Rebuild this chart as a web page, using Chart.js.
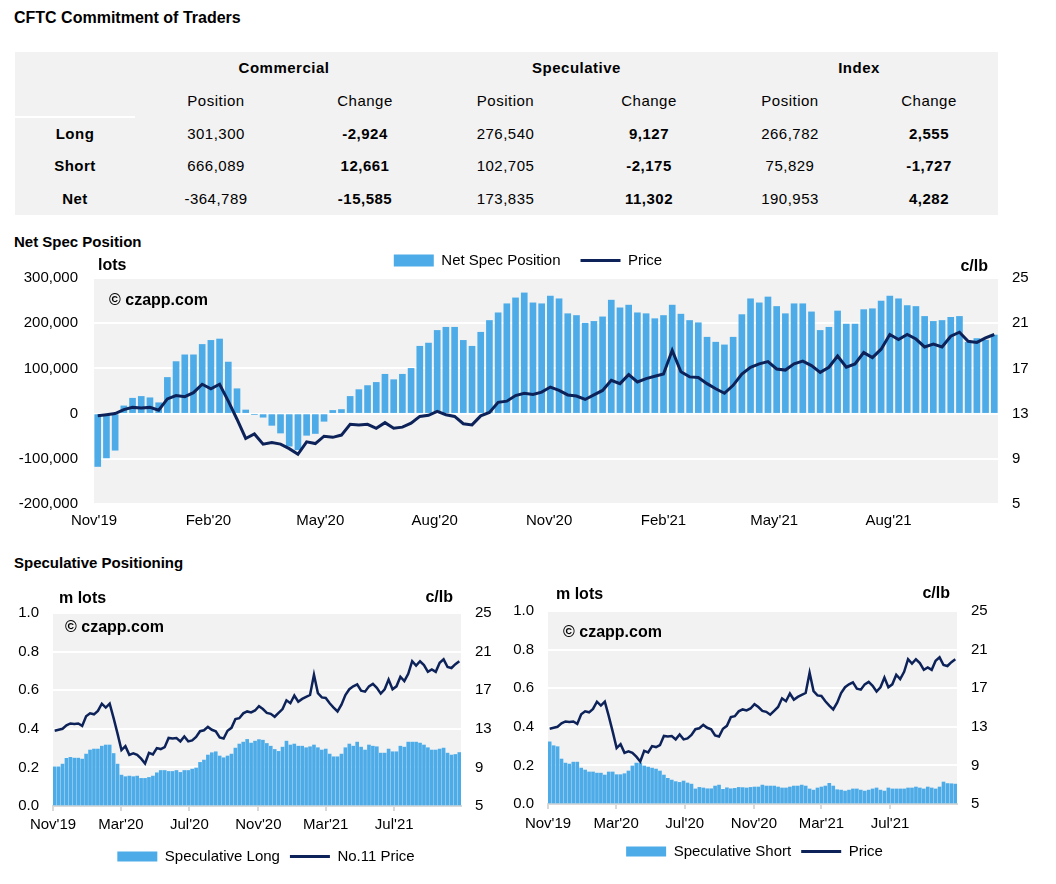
<!DOCTYPE html>
<html lang="en">
<head>
<meta charset="utf-8">
<title>CFTC Commitment of Traders</title>
<script src="https://cdn.jsdelivr.net/npm/chart.js@4.4.1/dist/chart.umd.min.js"></script>
<style>
  html, body { margin: 0; background: #fff; }
  body {
    position: relative; width: 1056px; height: 884px; overflow: hidden;
    font-family: 'Liberation Sans', Arial, sans-serif; color: #000;
  }
  .heading { position: absolute; left: 14px; margin: 0; font-size: 15px; line-height: 18px; font-weight: bold; }
  #title { top: 9px; font-size: 16px; }
  #netTitle { top: 233px; }
  #specTitle { top: 554px; }

  #cot {
    position: absolute; left: 15px; top: 52px; width: 983px; table-layout: fixed;
    border-collapse: separate; border-spacing: 0; background: #f2f2f2;
    font-size: 15px; letter-spacing: 0.5px;
  }
  #cot td, #cot th { padding: 0; text-align: center; vertical-align: middle; font-weight: normal; }
  #cot th, #cot td.bold { font-weight: bold; }
  #cot tr:nth-child(1) > * { height: 31px; }
  #cot tr:nth-child(2) > * { height: 33px; }
  #cot tr:nth-child(2) > .sep { border-bottom: 2px solid #fff; }
  #cot tr:nth-child(3) > * { height: 30px; }
  #cot tr:nth-child(4) > * { height: 34px; }
  #cot tr:nth-child(5) > * { height: 33px; }

  canvas { position: absolute; }
</style>
</head>
<body>
<div class="heading" id="title">CFTC Commitment of Traders</div>
<table id="cot">
  <colgroup>
    <col style="width:120px"><col style="width:162px"><col style="width:136px">
    <col style="width:145px"><col style="width:142px"><col style="width:140px"><col style="width:138px">
  </colgroup>
  <tbody></tbody>
</table>

<div class="heading" id="netTitle">Net Spec Position</div>
<canvas id="netChart" width="1056" height="302" style="left:0;top:233px"></canvas>

<div class="heading" id="specTitle">Speculative Positioning</div>
<canvas id="longChart" width="532" height="291" style="left:0;top:583px"></canvas>
<canvas id="shortChart" width="489" height="288" style="left:510px;top:581px"></canvas>

<script>
// table
const cotGroups = ['Commercial', 'Speculative', 'Index'];
const cotColumns = ['Position', 'Change'];
const cotRowLabels = ['Long', 'Short', 'Net'];
const cotPositions = [
    [301300, 276540, 266782],
    [666089, 102705, 75829],
    [-364789, 173835, 190953]
];
const cotChanges = [
    [-2924, 9127, 2555],
    [12661, -2175, -1727],
    [-15585, 11302, 4282]
];

// weekly series, week 0 = first report of Nov 2019
const weekZero = '2019-11-04';
const axisStart = '2019-11-01';
const axisEnd = '2021-10-28';

const netSpec = [
    -117000, -98000, -81000, 17000, 34000, 38000, 35000, 24000, 80000, 115000,
    130000, 130000, 153000, 162000, 165000, 114000, 55000, 8000, -2000, -8000,
    -26000, -43000, -72000, -80000, -48000, -44000, -17000, 7000, 9000, 38000,
    53000, 62000, 69000, 87000, 75000, 87000, 100000, 149000, 156000, 184000,
    191000, 191000, 162000, 149000, 180000, 206000, 223000, 243000, 256000, 267000,
    245000, 243000, 260000, 254000, 221000, 217000, 200000, 204000, 214000, 251000,
    234000, 240000, 223000, 221000, 210000, 217000, 240000, 220000, 206000, 201000,
    169000, 158000, 152000, 169000, 219000, 254000, 245000, 258000, 237000, 221000,
    243000, 243000, 225000, 184000, 191000, 227000, 198000, 198000, 230000, 232000,
    249000, 260000, 254000, 239000, 237000, 215000, 204000, 206000, 213000, 215000,
    158000, 166000, 162533, 173835
];

const price = [
    12.8, 12.9, 13.0, 13.35, 13.55, 13.5, 13.55, 13.3, 14.3, 14.6,
    14.5, 14.85, 15.6, 15.2, 15.6, 14.1, 12.5, 10.8, 11.2, 10.3,
    10.45, 10.3, 9.9, 9.4, 10.5, 10.35, 11.0, 10.9, 11.1, 12.05,
    12.0, 12.05, 11.7, 12.2, 11.7, 11.8, 12.15, 12.75, 12.85, 13.2,
    12.9, 12.75, 12.1, 12.0, 12.8, 13.1, 14.0, 14.1, 14.6, 14.8,
    14.7, 14.9, 15.35, 15.05, 14.65, 14.55, 14.25, 14.65, 15.05, 15.95,
    15.65, 16.45, 15.8, 16.1, 16.3, 16.5, 18.6, 16.7, 16.25, 16.2,
    15.65, 15.2, 14.8, 15.5, 16.5, 17.1, 17.4, 17.6, 16.95, 16.85,
    17.4, 17.65, 17.25, 16.65, 17.1, 18.1, 17.1, 17.4, 18.4, 17.95,
    18.7, 20.0, 19.55, 20.0, 19.6, 18.9, 19.15, 18.9, 19.85, 20.2,
    19.4, 19.3, 19.7, 20.0
];

const specLong = [
    0.203, 0.203, 0.217, 0.247, 0.252, 0.248, 0.248, 0.243, 0.269, 0.290,
    0.295, 0.295, 0.310, 0.316, 0.316, 0.272, 0.217, 0.160, 0.152, 0.155,
    0.152, 0.155, 0.143, 0.143, 0.148, 0.155, 0.172, 0.184, 0.184, 0.179,
    0.179, 0.184, 0.174, 0.184, 0.184, 0.191, 0.197, 0.226, 0.238, 0.264,
    0.276, 0.281, 0.259, 0.250, 0.259, 0.269, 0.300, 0.321, 0.331, 0.345,
    0.326, 0.336, 0.344, 0.341, 0.324, 0.310, 0.293, 0.283, 0.305, 0.336,
    0.316, 0.321, 0.310, 0.310, 0.302, 0.307, 0.316, 0.302, 0.290, 0.295,
    0.269, 0.255, 0.255, 0.269, 0.302, 0.321, 0.310, 0.331, 0.305, 0.290,
    0.316, 0.310, 0.307, 0.274, 0.274, 0.295, 0.281, 0.281, 0.310, 0.305,
    0.331, 0.331, 0.331, 0.326, 0.316, 0.302, 0.290, 0.290, 0.295, 0.300,
    0.274, 0.264, 0.267, 0.277
];

const specShort = [
    0.322, 0.302, 0.297, 0.233, 0.212, 0.207, 0.217, 0.217, 0.186, 0.176,
    0.166, 0.166, 0.160, 0.160, 0.150, 0.166, 0.166, 0.152, 0.152, 0.157,
    0.171, 0.197, 0.212, 0.212, 0.197, 0.191, 0.186, 0.181, 0.171, 0.150,
    0.133, 0.124, 0.116, 0.112, 0.119, 0.109, 0.103, 0.078, 0.086, 0.083,
    0.079, 0.079, 0.093, 0.098, 0.076, 0.084, 0.079, 0.081, 0.086, 0.085,
    0.083, 0.086, 0.088, 0.088, 0.098, 0.093, 0.093, 0.093, 0.088, 0.083,
    0.083, 0.088, 0.093, 0.093, 0.098, 0.093, 0.078, 0.072, 0.083, 0.088,
    0.093, 0.107, 0.093, 0.074, 0.072, 0.067, 0.072, 0.078, 0.078, 0.072,
    0.067, 0.072, 0.078, 0.083, 0.072, 0.067, 0.083, 0.078, 0.078, 0.078,
    0.078, 0.083, 0.083, 0.088, 0.083, 0.078, 0.088, 0.083, 0.078, 0.088,
    0.114, 0.106, 0.105, 0.103
];

const mainTickDates = ['2019-11-01', '2020-02-01', '2020-05-01', '2020-08-01',
    '2020-11-01', '2021-02-01', '2021-05-01', '2021-08-01'];
const mainTickLabels = ["Nov'19", "Feb'20", "May'20", "Aug'20", "Nov'20", "Feb'21", "May'21", "Aug'21"];
const smallTickDates = ['2019-11-01', '2020-03-01', '2020-07-01', '2020-11-01', '2021-03-01', '2021-07-01'];
const smallTickLabels = ["Nov'19", "Mar'20", "Jul'20", "Nov'20", "Mar'21", "Jul'21"];

const FONT = "'Liberation Sans', Arial, sans-serif";
const BLUE = '#4dace8';
const NAVY = '#0c2259';

Chart.defaults.font.family = FONT;
Chart.defaults.font.size = 15;
Chart.defaults.color = '#000';

function buildTable() {
    const body = document.querySelector('#cot tbody');
    let html = '<tr><td></td>' + cotGroups.map(g => `<th colspan="2">${g}</th>`).join('') + '</tr>';
    html += '<tr><td class="sep"></td>' + cotGroups.map(() => cotColumns.map(c => `<td>${c}</td>`).join('')).join('') + '</tr>';
    cotRowLabels.forEach((label, r) => {
        html += `<tr><th>${label}</th>`;
        cotGroups.forEach((g, c) => {
            html += `<td>${cotPositions[r][c].toLocaleString('en-US')}</td>`;
            html += `<td class="bold">${cotChanges[r][c].toLocaleString('en-US')}</td>`;
        });
        html += '</tr>';
    });
    body.innerHTML = html;
}

function weekOf(date) {
    return (Date.parse(date) - Date.parse(weekZero)) / (7 * 86400000);
}

function points(values) {
    return values.map((v, i) => ({ x: i, y: v }));
}

const plotBackground = {
    id: 'plotBackground',
    beforeDraw(chart) {
        const { ctx, chartArea: a } = chart;
        ctx.save();
        ctx.fillStyle = '#f2f2f2';
        ctx.fillRect(a.left, a.top, a.width, a.height);
        ctx.restore();
    }
};

function chartNotes(notes) {
    return {
        id: 'chartNotes',
        afterDraw(chart) {
            const { ctx, chartArea: a } = chart;
            ctx.save();
            ctx.fillStyle = '#000';
            ctx.textBaseline = 'middle';
            ctx.font = 'bold 16px ' + FONT;
            notes.forEach(n => {
                ctx.textAlign = n.right ? 'right' : 'left';
                ctx.fillText(n.text, n.right ? a.right - n.dx : a.left + n.dx, a.top + n.dy);
            });
            ctx.restore();
        }
    };
}

function legendOptions(position, padding, boxHeight) {
    return {
        position: position,
        labels: {
            usePointStyle: true,
            pointStyleWidth: 40,
            boxHeight: boxHeight,
            padding: padding,
            font: { size: 15 },
            generateLabels(chart) {
                return chart.data.datasets.map((ds, i) => ({
                    text: ds.label,
                    fillStyle: ds.type === 'line' ? ds.borderColor : ds.backgroundColor,
                    strokeStyle: ds.type === 'line' ? ds.borderColor : ds.backgroundColor,
                    lineWidth: ds.type === 'line' ? 3 : 0,
                    pointStyle: ds.type === 'line' ? 'line' : 'rect',
                    hidden: false,
                    datasetIndex: i,
                    fontColor: '#000'
                }));
            }
        }
    };
}

function timeAxis(dates, labels, height, padding, tickMarks) {
    return {
        type: 'linear',
        offset: false,
        min: weekOf(axisStart),
        max: weekOf(axisEnd),
        afterBuildTicks(scale) {
            scale.ticks = dates.map(d => ({ value: weekOf(d) }));
        },
        afterFit(scale) {
            scale.height = height;
        },
        ticks: {
            autoSkip: false,
            maxRotation: 0,
            padding: padding,
            callback: (value, index) => labels[index]
        },
        grid: tickMarks
            ? { display: true, drawOnChartArea: false, drawTicks: true, tickLength: 5, color: '#d9d9d9', lineWidth: 2, offset: false }
            : { display: false, drawTicks: false },
        border: tickMarks ? { display: true, color: '#d9d9d9', width: 2 } : { display: false }
    };
}

function valueAxis(min, max, step, width, position, format) {
    const left = position === 'left';
    return {
        position: position,
        min: min,
        max: max,
        afterFit(scale) {
            scale.width = width;
        },
        ticks: {
            stepSize: step,
            padding: left ? (width > 60 ? 16 : 14) : 14,
            callback: format
        },
        grid: left ? { color: '#ffffff', lineWidth: 2, drawTicks: false } : { display: false, drawTicks: false },
        border: { display: false }
    };
}

function drawNetChart() {
    new Chart(document.getElementById('netChart'), {
        type: 'bar',
        data: {
            datasets: [{
                type: 'bar',
                label: 'Net Spec Position',
                data: points(netSpec),
                backgroundColor: BLUE,
                barThickness: 6,
                yAxisID: 'y',
                order: 2
            }, {
                type: 'line',
                label: 'Price',
                data: points(price),
                borderColor: NAVY,
                backgroundColor: NAVY,
                borderWidth: 3,
                pointRadius: 0,
                yAxisID: 'y1',
                order: 1
            }]
        },
        options: {
            responsive: false,
            animation: false,
            events: [],
            layout: { padding: { bottom: 5 } },
            plugins: {
                legend: legendOptions('top', 20, 12),
                tooltip: { enabled: false }
            },
            scales: {
                x: timeAxis(mainTickDates, mainTickLabels, 26, 8, false),
                y: valueAxis(-200000, 300000, 100000, 94, 'left', v => v.toLocaleString('en-US')),
                y1: valueAxis(5, 25, 4, 58, 'right', v => v)
            }
        },
        plugins: [plotBackground, chartNotes([
            { text: 'lots', dx: 4, dy: -12 },
            { text: 'c/lb', dx: 10, dy: -11, right: true },
            { text: '\u00a9 czapp.com', dx: 15, dy: 23 }
        ])]
    });
}

function drawSpecChart(canvasId, barLabel, barValues, lineLabel, sizes, notes) {
    new Chart(document.getElementById(canvasId), {
        type: 'bar',
        data: {
            datasets: [{
                type: 'bar',
                label: barLabel,
                data: points(barValues),
                backgroundColor: BLUE,
                barThickness: 3,
                yAxisID: 'y',
                order: 2
            }, {
                type: 'line',
                label: lineLabel,
                data: points(price),
                borderColor: NAVY,
                backgroundColor: NAVY,
                borderWidth: 2.5,
                pointRadius: 0,
                yAxisID: 'y1',
                order: 1
            }]
        },
        options: {
            responsive: false,
            animation: false,
            events: [],
            layout: { padding: { top: 30 } },
            plugins: {
                legend: legendOptions('bottom', 10, 10),
                tooltip: { enabled: false }
            },
            scales: {
                x: timeAxis(smallTickDates, smallTickLabels, sizes.xHeight, sizes.xPadding, true),
                y: valueAxis(0, 1, 0.2, sizes.left, 'left', v => v.toFixed(1)),
                y1: valueAxis(5, 25, 4, sizes.right, 'right', v => v)
            }
        },
        plugins: [plotBackground, chartNotes(notes)]
    });
}

buildTable();
drawNetChart();
drawSpecChart('longChart', 'Speculative Long', specLong, 'No.11 Price',
    { left: 53, right: 71, xHeight: 33, xPadding: 5 },
    [
        { text: 'm lots', dx: 6, dy: -14.5 },
        { text: 'c/lb', dx: 8, dy: -15, right: true },
        { text: '\u00a9 czapp.com', dx: 12, dy: 14.5 }
    ]);
drawSpecChart('shortChart', 'Speculative Short', specShort, 'Price',
    { left: 38, right: 42, xHeight: 30, xPadding: 5.5 },
    [
        { text: 'm lots', dx: 8, dy: -16.5 },
        { text: 'c/lb', dx: 7, dy: -17, right: true },
        { text: '\u00a9 czapp.com', dx: 15, dy: 21.5 }
    ]);
</script>
</body>
</html>
